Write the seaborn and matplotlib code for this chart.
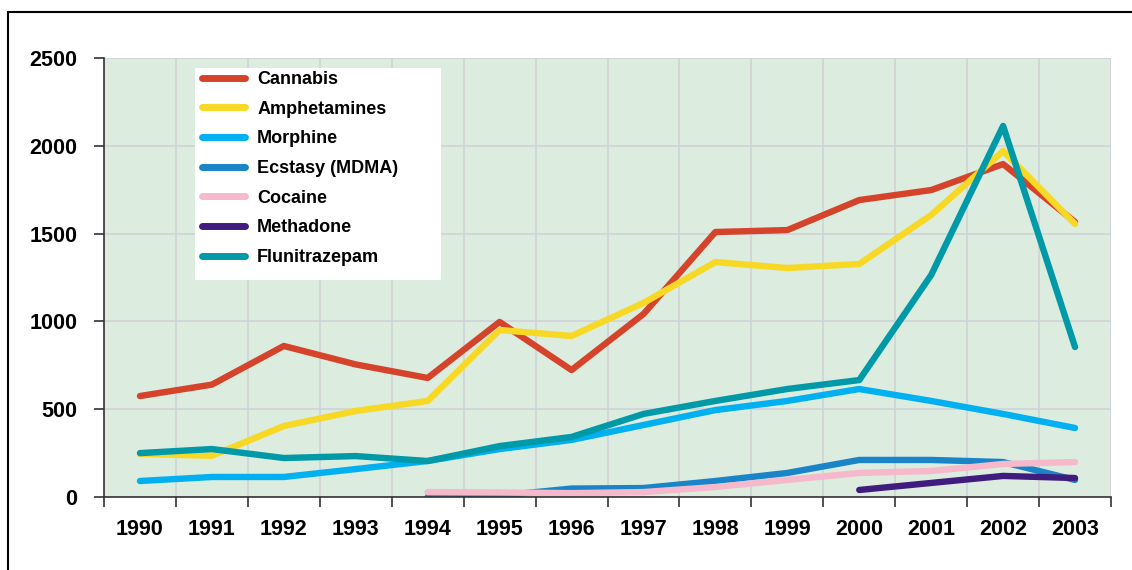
import numpy as np
import pandas as pd
import matplotlib
matplotlib.use("Agg")
import matplotlib.pyplot as plt
import seaborn as sns
from matplotlib.patches import Rectangle
from matplotlib.ticker import MultipleLocator, FixedLocator

years = list(range(1990, 2004))

cannabis = [575, 640, 860, 755, 678, 997, 723, 1042, 1509, 1520, 1691, 1748, 1896, 1566]
amphetamines = [245, 235, 404, 490, 547, 951, 917, 1105, 1338, 1304, 1327, 1606, 1970, 1555]
morphine = [91, 114, 114, 159, 205, 273, 325, 410, 495, 547, 615, 547, 473, 393]
ecstasy = [np.nan, np.nan, np.nan, np.nan, 0, 8, 48, 51, 91, 137, 211, 211, 199, 97]
cocaine = [np.nan, np.nan, np.nan, np.nan, 28, 26, 22, 28, 57, 97, 137, 148, 188, 199]
methadone = [np.nan] * 10 + [40, 80, 120, 108]
flunitrazepam = [250, 273, 222, 233, 205, 290, 342, 473, 547, 615, 666, 1264, 2113, 854]

drugs = ["Cannabis", "Amphetamines", "Morphine", "Ecstasy (MDMA)",
         "Cocaine", "Methadone", "Flunitrazepam"]
series = [cannabis, amphetamines, morphine, ecstasy, cocaine, methadone, flunitrazepam]
colors = ["#d5432b", "#f7d925", "#00b0f0", "#1a84c8", "#f5b9cb", "#3f1c7d", "#0099a8"]

rows = []
for name, vals in zip(drugs, series):
    for y, v in zip(years, vals):
        if not np.isnan(v):
            rows.append({"year": y, "count": v, "drug": name})
df = pd.DataFrame(rows)

sns.set_style("white")
plt.rcParams["font.family"] = ["Liberation Sans", "DejaVu Sans"]
plt.rcParams["font.weight"] = "bold"
plt.rcParams["text.color"] = "black"
plt.rcParams["xtick.color"] = "black"
plt.rcParams["ytick.color"] = "black"

fig = plt.figure(figsize=(11.32, 5.70), dpi=100)
ax = fig.add_axes([104 / 1132, 73 / 570, 1007 / 1132, 439 / 570])
ax.set_facecolor("#dcecdf")

sns.lineplot(data=df, x="year", y="count", hue="drug", hue_order=drugs,
             palette=colors, linewidth=4.6, ax=ax, legend=True)

ax.set_xlim(1989.5, 2003.5)
ax.set_ylim(0, 2500)
ax.xaxis.set_major_locator(FixedLocator(years))
ax.xaxis.set_minor_locator(MultipleLocator(1, offset=0.5))
ax.yaxis.set_major_locator(MultipleLocator(500))
ax.set_xticklabels([str(y) for y in years])
ax.tick_params(axis="x", which="major", length=0, pad=16, labelsize=15.5, labelcolor="black")
ax.tick_params(axis="x", which="minor", length=7, width=1.2, direction="out", color="#333333", bottom=True)
ax.tick_params(axis="y", which="major", length=7, width=1.2, direction="out", color="#333333",
               left=True, pad=12, labelsize=15.5, labelcolor="black")
for lab in ax.get_xticklabels() + ax.get_yticklabels():
    lab.set_fontweight("bold")

ax.grid(False)
ax.grid(axis="x", which="minor", color="#cfd3d8", linewidth=1.2)
ax.grid(axis="y", which="major", color="#cfd3d8", linewidth=1.2)
ax.set_axisbelow(True)
ax.set_xlabel("")
ax.set_ylabel("")

for side in ["top", "right"]:
    ax.spines[side].set_visible(False)
ax.spines["left"].set_color("#333333")
ax.spines["bottom"].set_color("#333333")
ax.spines["left"].set_linewidth(1.2)
ax.spines["bottom"].set_linewidth(1.2)

# white legend box, a bit wider than the entries like the Excel original
ax.add_patch(Rectangle((91 / 1007, 217 / 439), 246 / 1007, 212 / 439,
                       transform=ax.transAxes, facecolor="white", edgecolor="none", zorder=5))
leg = ax.legend(loc="upper left", bbox_to_anchor=(98 / 1007, 1 - 13 / 439), borderaxespad=0,
                frameon=False, prop={"weight": "bold", "size": 13}, handlelength=2.4,
                labelspacing=0.70, borderpad=0, handletextpad=0.65)
leg.set_zorder(6)
for line in leg.get_lines():
    line.set_linewidth(5)

fig.patches.append(Rectangle((8 / 1132, -0.1), 1.2, (570 - 12) / 570 + 0.1,
                             transform=fig.transFigure, fill=False,
                             edgecolor="black", linewidth=1.5))

fig.savefig("out.png", dpi=100)
